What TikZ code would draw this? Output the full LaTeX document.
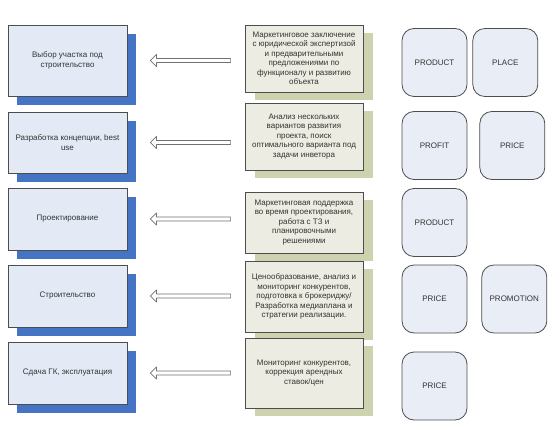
\documentclass[tikz,border=0pt]{standalone}
\usepackage{fontspec}
\setmainfont{Liberation Sans}
\usetikzlibrary{positioning,shadows,calc}
\definecolor{stagefill}{HTML}{E3EAF6}
\definecolor{stageshade}{HTML}{4674C5}
\definecolor{notefill}{HTML}{ECECE2}
\definecolor{noteshade}{HTML}{CDD3AF}
\definecolor{mixfill}{HTML}{E8EDF6}
\definecolor{edge}{HTML}{4D4D4D}
\definecolor{ink}{HTML}{333333}

\begin{document}
\begin{tikzpicture}[x=1pt,y=-1pt,
    font=\fontsize{8}{10.5}\selectfont,text=ink,
    stage/.style={rectangle,draw=edge,line width=0.8pt,fill=stagefill,
      minimum width=119pt,align=center,
      drop shadow={shadow xshift=9pt,shadow yshift=-9pt,opacity=1,fill=stageshade}},
    note/.style={rectangle,draw=edge,line width=0.8pt,fill=notefill,
      minimum width=118pt,align=center,font=\fontsize{8}{9.5}\selectfont,
      drop shadow={shadow xshift=10pt,shadow yshift=-8pt,opacity=1,fill=noteshade}},
    mix/.style={rectangle,draw=edge,line width=0.8pt,fill=mixfill,
      rounded corners=12pt,minimum width=65pt,minimum height=68pt},
    hollow/.style={draw=edge!80,fill=white,line width=0.7pt,line join=round,
      to path={let \p1=(\tikztostart),\p2=(\tikztotarget) in
        (\x1-14pt,\y2+2pt) -- (\x2+29pt,\y2+2pt) -- (\x2+29pt,\y2+6pt)
        -- (\x2+23pt,\y2) -- (\x2+29pt,\y2-6pt) -- (\x2+29pt,\y2-2pt)
        -- (\x1-14pt,\y2-2pt) -- cycle}}]
  \useasboundingbox (0,0) rectangle (553,422);

  % stages
  \node[stage,minimum height=71pt] (l1) at (67.5,60.5) {Выбор участка под\\строительство};
  \node[stage,minimum height=61pt] (l2) at (67.5,142.5) {Разработка концепции, best\\use};
  \node[stage,minimum height=62pt] (l3) at (67.5,219) {Проектирование};
  \node[stage,minimum height=62pt] (l4) at (67.5,296) {Строительство};
  \node[stage,minimum height=62pt] (l5) at (67.5,373) {Сдача ГК, эксплуатация};

  % marketing tasks
  \node[note,minimum height=67pt] (m1) at (304,58.5) {Маркетинговое заключение\\с юридической экспертизой\\и предварительными\\предложениями по\\функционалу и развитию\\объекта};
  \node[note,minimum height=67pt] (m2) at (304,136.5) {Анализ нескольких\\вариантов развития\\проекта, поиск\\оптимального варианта под\\задачи инветора};
  \node[note,minimum height=61pt] (m3) at (304,222.5) {Маркетинговая поддержка\\во время проектирования,\\работа с ТЗ и\\планировочными\\решениями};
  \node[note,minimum height=71pt] (m4) at (304,296.5) {Ценообразование, анализ и\\мониторинг конкурентов,\\подготовка к брокериджу/\\Разработка медиаплана и\\стратегии реализации.};
  \node[note,minimum height=70pt] (m5) at (304,373) {Мониторинг конкурентов,\\коррекция арендных\\ставок/цен};

  % marketing mix
  \node[mix] (prod1) at (434.5,62.5) {PRODUCT};
  \node[mix,right=5pt of prod1] (place) {PLACE};
  \node[mix] (profit) at (434.5,145.5) {PROFIT};
  \node[mix,right=12pt of profit] (price2) {PRICE};
  \node[mix] (prod3) at (434.5,222.5) {PRODUCT};
  \node[mix] (price4) at (434.5,299) {PRICE};
  \node[mix,right=14pt of price4] (promo) {PROMOTION};
  \node[mix] (price5) at (434.5,386) {PRICE};

  \foreach \i in {1,...,5}
    \draw[hollow] (m\i.west) to (l\i.east);
\end{tikzpicture}
\end{document}
